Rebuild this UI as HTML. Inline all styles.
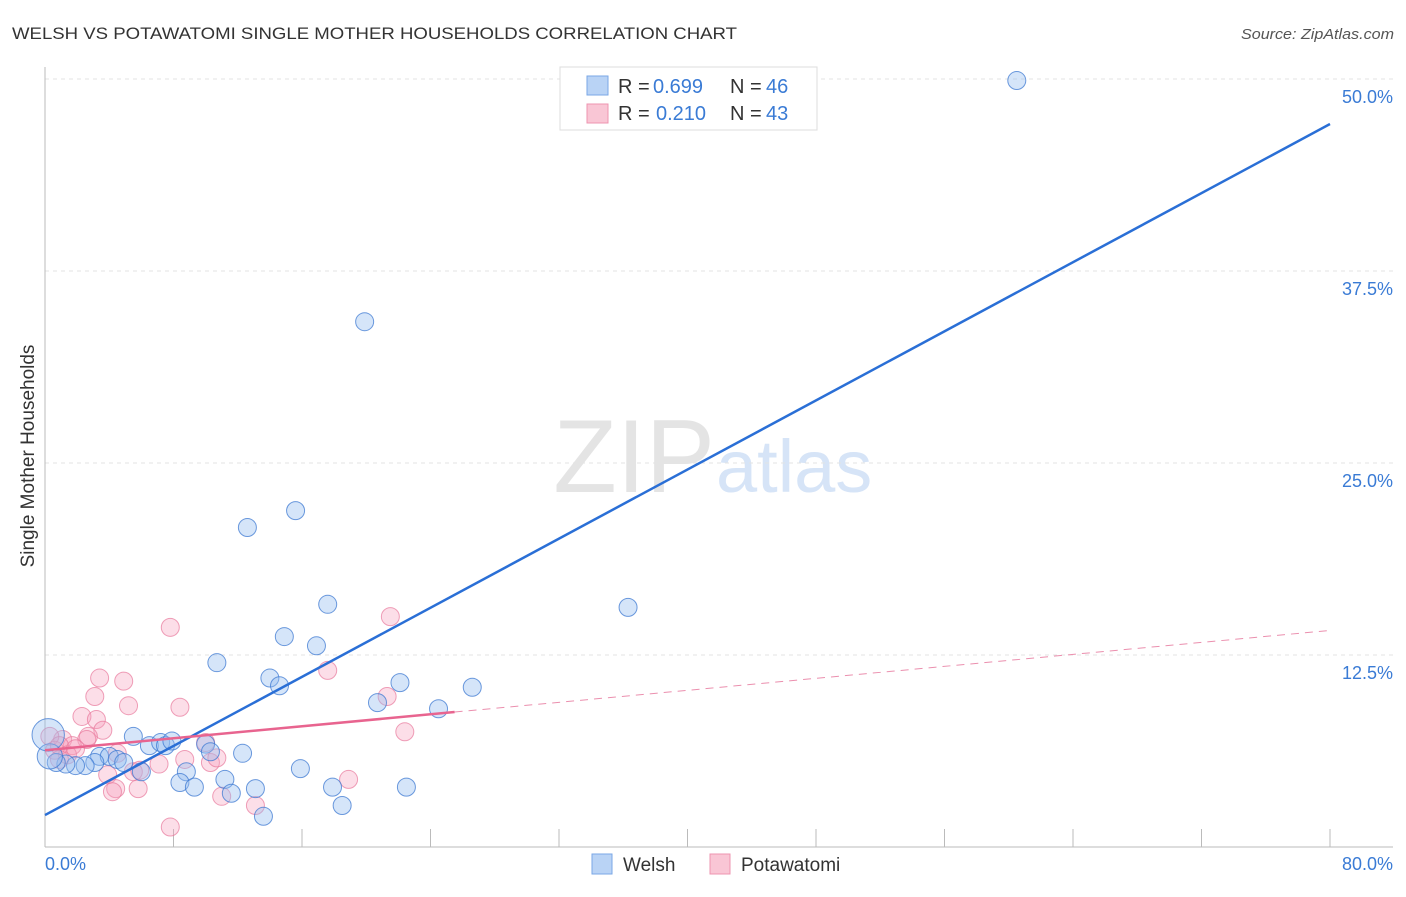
<!DOCTYPE html>
<html><head><meta charset="utf-8"><style>
body{margin:0;background:#fff;font-family:"Liberation Sans",sans-serif;}
svg text{font-family:"Liberation Sans",sans-serif;}
</style></head><body>
<svg id="chart" width="1406" height="892" xmlns="http://www.w3.org/2000/svg">
<text x="12" y="39" font-size="17" fill="#333" textLength="725" lengthAdjust="spacingAndGlyphs">WELSH VS POTAWATOMI SINGLE MOTHER HOUSEHOLDS CORRELATION CHART</text>
<text x="1394" y="39" font-size="15" fill="#555" font-style="italic" text-anchor="end" textLength="153" lengthAdjust="spacingAndGlyphs">Source: ZipAtlas.com</text>
<text x="715" y="492" font-size="104" fill="#e4e4e4" text-anchor="end" font-family="Liberation Serif">ZIP</text>
<text x="716" y="492" font-size="74" fill="#d6e4f7">atlas</text>
<text transform="translate(34,456) rotate(-90)" font-size="19" fill="#333" text-anchor="middle">Single Mother Households</text>
<g id="grid"></g><g id="axes"></g><g id="pts"></g><g id="lines"></g>
<g>
<rect x="560" y="67" width="257" height="63" fill="#fff" stroke="#ddd"/>
<rect x="587" y="76" width="21" height="19" fill="#b9d3f5" stroke="#7aa7e6"/>
<rect x="587" y="104" width="21" height="19" fill="#f9c6d5" stroke="#ee94b0"/>
<text x="618" y="93" font-size="20" fill="#333">R = <tspan fill="#3a7bd5" x="653">0.699</tspan><tspan x="730">N = </tspan><tspan fill="#3a7bd5" x="766">46</tspan></text>
<text x="618" y="120" font-size="20" fill="#333">R = <tspan fill="#3a7bd5" x="656">0.210</tspan><tspan x="730">N = </tspan><tspan fill="#3a7bd5" x="766">43</tspan></text>
</g>
<g>
<rect x="592" y="854" width="20" height="20" fill="#b9d3f5" stroke="#7aa7e6"/>
<text x="623" y="871" font-size="19" fill="#333">Welsh</text>
<rect x="710" y="854" width="20" height="20" fill="#f9c6d5" stroke="#ee94b0"/>
<text x="741" y="871" font-size="19" fill="#333">Potawatomi</text>
</g>
</svg>
<script>
const yTicks=[12.5,25,37.5,50];
const yTickLabels=["12.5%","25.0%","37.5%","50.0%"];
const xTicks=[0,8,16,24,32,40,48,56,64,72,80];
const welshX=[60.5,19.9,15.6,12.6,17.6,36.3,14.9,16.9,10.7,14.0,14.6,22.1,26.6,20.7,24.5,5.5,6.5,7.2,7.5,7.9,10.0,10.3,12.3,3.4,4.0,4.5,4.9,3.1,2.5,1.9,1.3,0.7,0.3,0.2,15.9,8.8,6.0,8.4,11.2,9.3,11.6,13.1,17.9,22.5,18.5,13.6];
const welshY=[49.9,34.2,21.9,20.8,15.8,15.6,13.7,13.1,12.0,11.0,10.5,10.7,10.4,9.4,9.0,7.2,6.6,6.8,6.6,6.9,6.7,6.2,6.1,5.9,5.9,5.7,5.5,5.5,5.3,5.3,5.4,5.5,5.9,7.3,5.1,4.9,4.9,4.2,4.4,3.9,3.5,3.8,3.9,3.9,2.7,2.0];
const welshSize=[1,1,1,1,1,1,1,1,1,1,1,1,1,1,1,1,1,1,1,1,1,1,1,1,1,1,1,1,1,1,1,1,1.4,1.8,1,1,1,1,1,1,1,1,1,1,1,1];
const potX=[7.8,21.5,17.6,3.4,4.9,3.1,8.4,5.2,2.3,3.2,3.6,22.4,2.7,2.6,10.0,4.5,1.1,1.7,0.3,0.6,0.9,8.7,10.3,7.1,10.7,3.9,5.5,5.9,18.9,4.4,4.2,5.8,11.0,13.1,7.8,21.3,1.4,0.9,1.9];
const potY=[14.3,15.0,11.5,11.0,10.8,9.8,9.1,9.2,8.5,8.3,7.6,7.5,7.2,7.0,6.8,6.1,7.0,6.6,7.2,6.3,6.6,5.7,5.5,5.4,5.8,4.7,4.9,5.0,4.4,3.8,3.6,3.8,3.3,2.7,1.3,9.8,6.0,5.7,6.4];
const welshLine=[2.08,47.07];
const potLine=[6.3,14.1];
const potSolidEnd=25.5;
const NS="http://www.w3.org/2000/svg";
const X=v=>45+v*16.0625, Y=v=>847-v*15.36;
function mk(p,t,a){const e=document.createElementNS(NS,t);for(const k in a)e.setAttribute(k,a[k]);p.appendChild(e);return e;}
const grid=document.getElementById('grid'),axes=document.getElementById('axes'),pts=document.getElementById('pts'),lines=document.getElementById('lines');
yTicks.forEach((t,i)=>{
 const l=mk(grid,'line',{x1:45,x2:1393,y1:Y(t),y2:Y(t),stroke:'#e3e3e3','stroke-dasharray':'4,4'});
 
 
 const tx=mk(grid,'text',{x:1393,y:Y(t)+24,'font-size':18,fill:'#3a7bd5','text-anchor':'end'});
 tx.textContent=yTickLabels[i];
 
 
});
const ya=mk(axes,'line',{x1:45,x2:45,y1:67,y2:847,stroke:'#bbb'});


const xa=mk(axes,'line',{x1:45,x2:1393,y1:847,y2:847,stroke:'#bbb'});


xTicks.forEach(t=>{const l=mk(axes,'line',{x1:X(t),x2:X(t),y1:829,y2:847,stroke:'#bbb'});
 
 });
const xl0=mk(axes,'text',{x:45,y:870,'font-size':18,fill:'#3a7bd5'});xl0.textContent='0.0%';


const xl1=mk(axes,'text',{x:1393,y:870,'font-size':18,fill:'#3a7bd5','text-anchor':'end'});xl1.textContent='80.0%';


potX.forEach((v,i)=>{const c=mk(pts,'circle',{cx:X(v),cy:Y(potY[i]),r:9,fill:'rgba(246,160,188,0.35)',stroke:'rgba(232,120,155,0.7)','stroke-width':1});
 
 });
welshX.forEach((v,i)=>{const c=mk(pts,'circle',{cx:X(v),cy:Y(welshY[i]),r:9*welshSize[i],fill:'rgba(150,190,240,0.4)',stroke:'rgba(60,120,210,0.75)','stroke-width':1});
 
 });
const pAt=v=>potLine[0]+(potLine[1]-potLine[0])*v/80;
const bl=mk(lines,'line',{x1:X(0),y1:Y(welshLine[0]),x2:X(80),y2:Y(welshLine[1]),stroke:'#2a6fd6','stroke-width':2.5});


const pl=mk(lines,'line',{x1:X(0),y1:Y(pAt(0)),x2:X(potSolidEnd),y2:Y(pAt(potSolidEnd)),stroke:'#e8648f','stroke-width':2.5});


const pd=mk(lines,'line',{x1:X(potSolidEnd),y1:Y(pAt(potSolidEnd)),x2:X(80),y2:Y(pAt(80)),stroke:'#eb8fae','stroke-width':1,'stroke-dasharray':'8,6'});


</script>
</body></html>
